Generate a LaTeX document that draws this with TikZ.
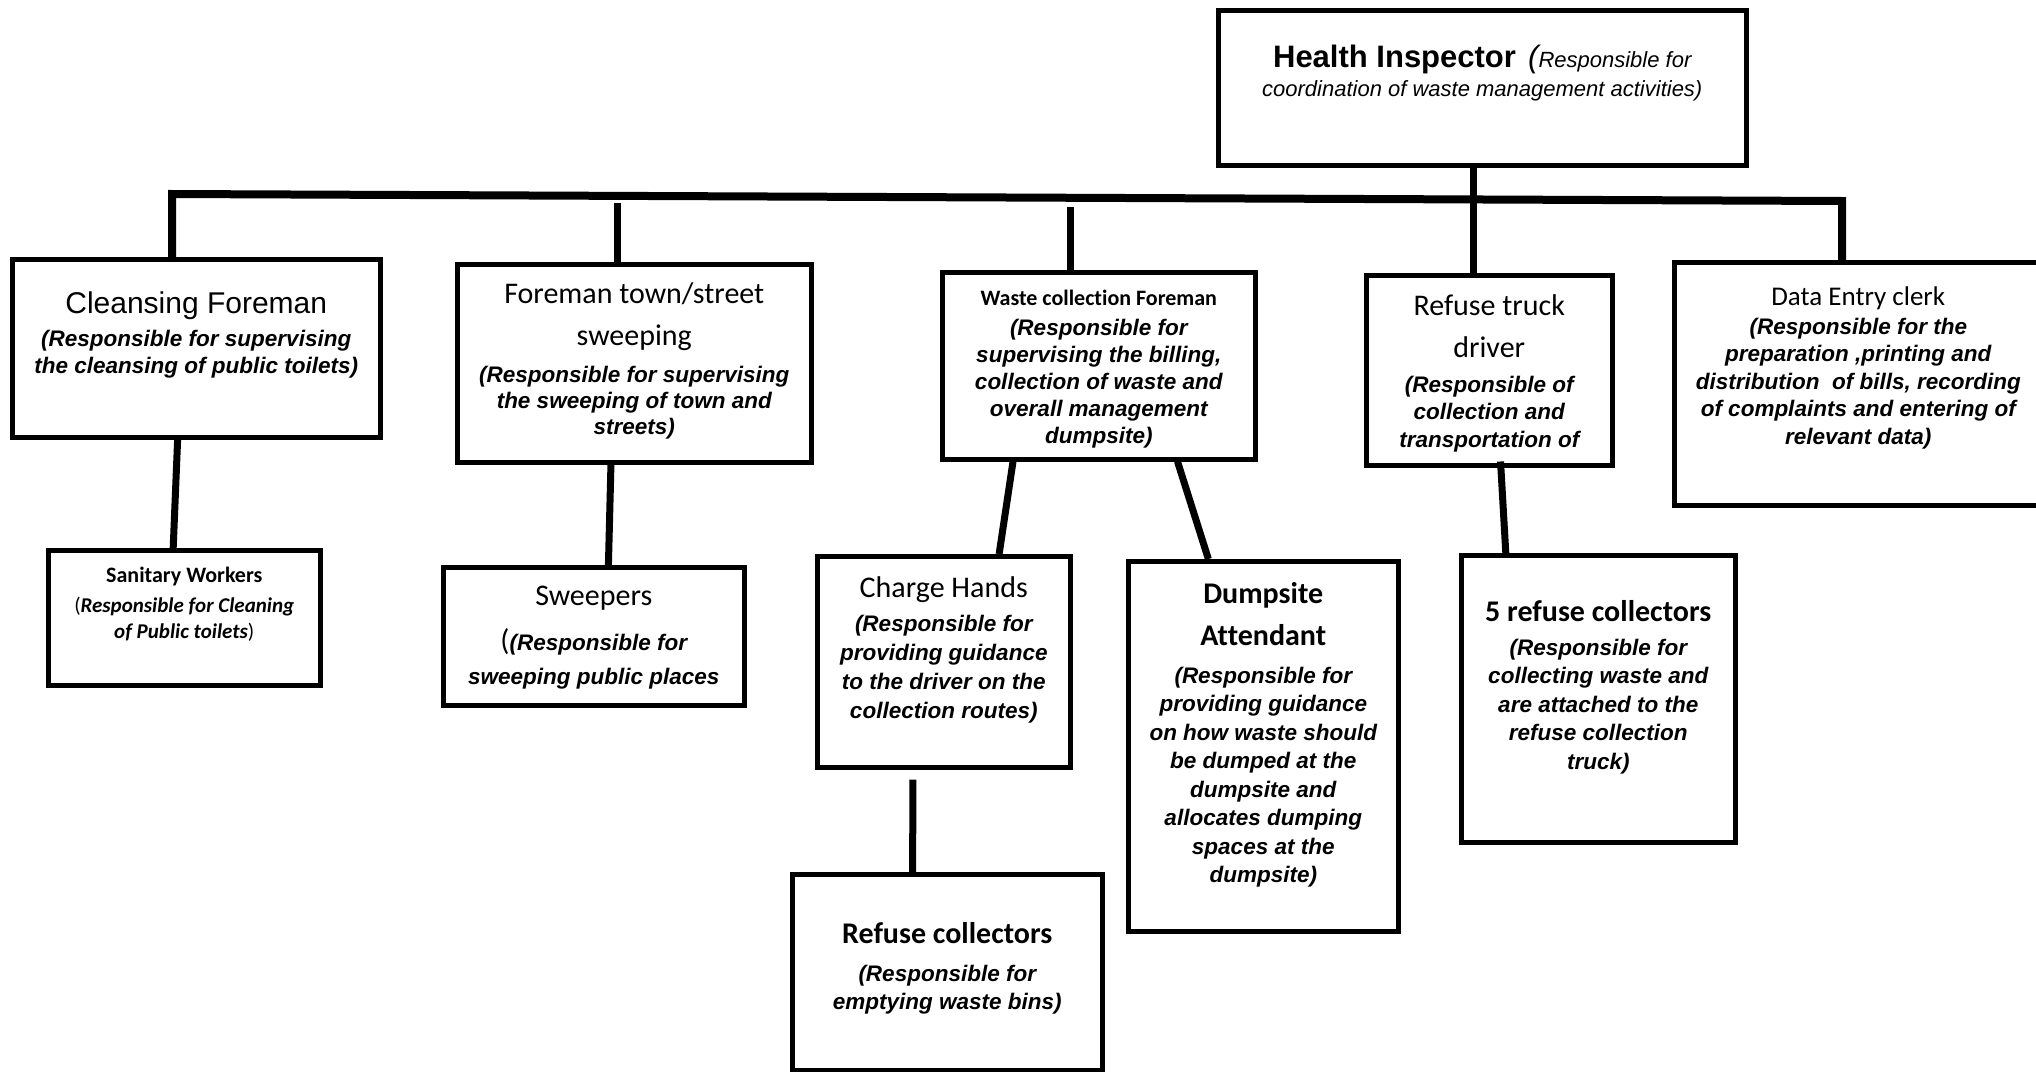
\documentclass[tikz,border=0pt]{standalone}
\usepackage{fontspec}
\setmainfont{Liberation Sans}
\newfontfamily\calibri[Ligatures=NoCommon]{Carlito}
\usetikzlibrary{calc}
\newcommand{\job}[4]{\parbox[c][#2][t]{#1}{\centering\vspace*{#3}#4\par}}
\newcommand{\ttl}{\calibri\fontsize{30}{42}\selectfont}
\newcommand{\dsc}{\bfseries\itshape\fontsize{22.5}{27}\selectfont}

\begin{document}
\begin{tikzpicture}[x=1pt,y=-1pt,
  post/.style={draw,line width=4.5pt,inner sep=0pt,anchor=north west},
  link/.style={line width=7pt},
  bus/.style={line width=8pt,line join=miter}]
 \useasboundingbox (0,0) rectangle (2036,1071);
 \node[post] (hi) at (1216,8) {\job{528pt}{155pt}{35pt}{{\fontsize{22}{29}\selectfont\itshape{\upshape\bfseries\fontsize{31}{29}\selectfont Health Inspector}\ \ {\fontsize{31}{29}\selectfont(}Responsible for\\coordination of waste management activities)\par}}};
 \node[post] (cf) at (10,257) {\job{368pt}{178pt}{33pt}{{\fontsize{30}{30}\selectfont Cleansing Foreman\par}\vspace{6pt}{\dsc (Responsible for supervising\\the cleansing of public toilets)\par}}};
 \node[post] (fts) at (455,262) {\job{354pt}{198pt}{18pt}{{\ttl Foreman town/street\\sweeping\par}\vspace{11pt}{\dsc\fontsize{22.5}{26}\selectfont(Responsible for supervising\\the sweeping of town and\\streets)\par}}};
 \node[post] (wcf) at (940,270) {\job{313pt}{187pt}{18pt}{{\calibri\bfseries\fontsize{22}{22}\selectfont Waste collection Foreman\par}\vspace{3pt}{\dsc(Responsible for\\supervising the billing,\\collection of waste and\\overall management\\dumpsite)\par}}};
 \node[post] (rtd) at (1364,273) {\job{246pt}{190pt}{19pt}{{\ttl Refuse truck\\driver\par}\vspace{7.5pt}{\dsc\fontsize{22.5}{27.5}\selectfont(Responsible of\\collection and\\transportation of\par}}};
 \node[post] (dec) at (1672,260) {\job{368pt}{243pt}{24pt}{{\calibri\fontsize{27}{27}\selectfont Data Entry clerk\par}\vspace{1.5pt}{\dsc\fontsize{22.5}{27.5}\selectfont(Responsible for the\\preparation ,printing and\\distribution\ \ of bills, recording\\of complaints and entering of\\relevant data)\par}}};
 \node[post] (sw) at (46,548) {\job{272pt}{135pt}{17pt}{{\calibri\bfseries\fontsize{22}{22}\selectfont Sanitary Workers\par}\vspace{4pt}{\calibri\fontsize{21}{26}\selectfont({\bfseries\itshape Responsible for Cleaning}\\{\bfseries\itshape of Public toilets})\par}}};
 \node[post] (swp) at (441,565) {\job{301pt}{138pt}{18.5pt}{{\ttl Sweepers\par}\vspace{11pt}{\dsc\fontsize{22.5}{34}\selectfont{\calibri\mdseries\upshape\fontsize{30}{34}\selectfont(}(Responsible for\\sweeping public places\par}}};
 \node[post] (ch) at (815,554) {\job{253pt}{211pt}{20pt}{{\ttl Charge Hands\par}\vspace{5pt}{\dsc\fontsize{22.5}{29}\selectfont(Responsible for\\providing guidance\\to the driver on the\\collection routes)\par}}};
 \node[post] (da) at (1126,559) {\job{270pt}{370pt}{21pt}{{\ttl\bfseries Dumpsite\\Attendant\par}\vspace{9.5pt}{\dsc\fontsize{22.5}{28.5}\selectfont(Responsible for\\providing guidance\\on how waste should\\be dumped at the\\dumpsite and\\allocates dumping\\spaces at the\\dumpsite)\par}}};
 \node[post] (rc) at (790,872) {\job{310pt}{196pt}{48pt}{{\ttl\bfseries Refuse collectors\par}\vspace{10pt}{\dsc\fontsize{22.5}{28}\selectfont(Responsible for\\emptying waste bins)\par}}};
 \node[post] (frc) at (1459,553) {\job{274pt}{287pt}{45pt}{{\ttl\bfseries 5 refuse collectors\par}\vspace{5.5pt}{\dsc\fontsize{22.5}{28.5}\selectfont(Responsible for\\collecting waste and\\are attached to the\\refuse collection\\truck)\par}}};
 \coordinate (bl) at (172,194); \coordinate (br) at (1842,201);
 \coordinate (j2) at (617,203); \coordinate (j3) at (1070,207);
 \coordinate (j4) at (1473,200);
 \draw[bus] (cf.north -| bl) -- (bl) -- (br) -- (dec.north -| br);
 \draw[link] (hi.south -| j4) -- (rtd.north -| j4);
 \draw[link] (j2) -- (fts.north -| j2);
 \draw[link] (j3) -- (wcf.north -| j3);
 \foreach \a/\p/\b/\q in {cf/0.45/sw/0.46,fts/0.435/swp/0.548,wcf/0.23/ch/0.715,wcf/0.748/da/0.30}
  {\draw[link] ($(\a.south west)!\p!(\a.south east)$) -- ($(\b.north west)!\q!(\b.north east)$);}
 \draw[link] ($(ch.south west)!0.38!(ch.south east)+(0,10)$) -- ($(rc.north west)!0.39!(rc.north east)$);
 \draw[link] ($(rtd.south west)!0.545!(rtd.south east)+(0,-6)$) -- ($(frc.north west)!0.168!(frc.north east)$);
\end{tikzpicture}
\end{document}
